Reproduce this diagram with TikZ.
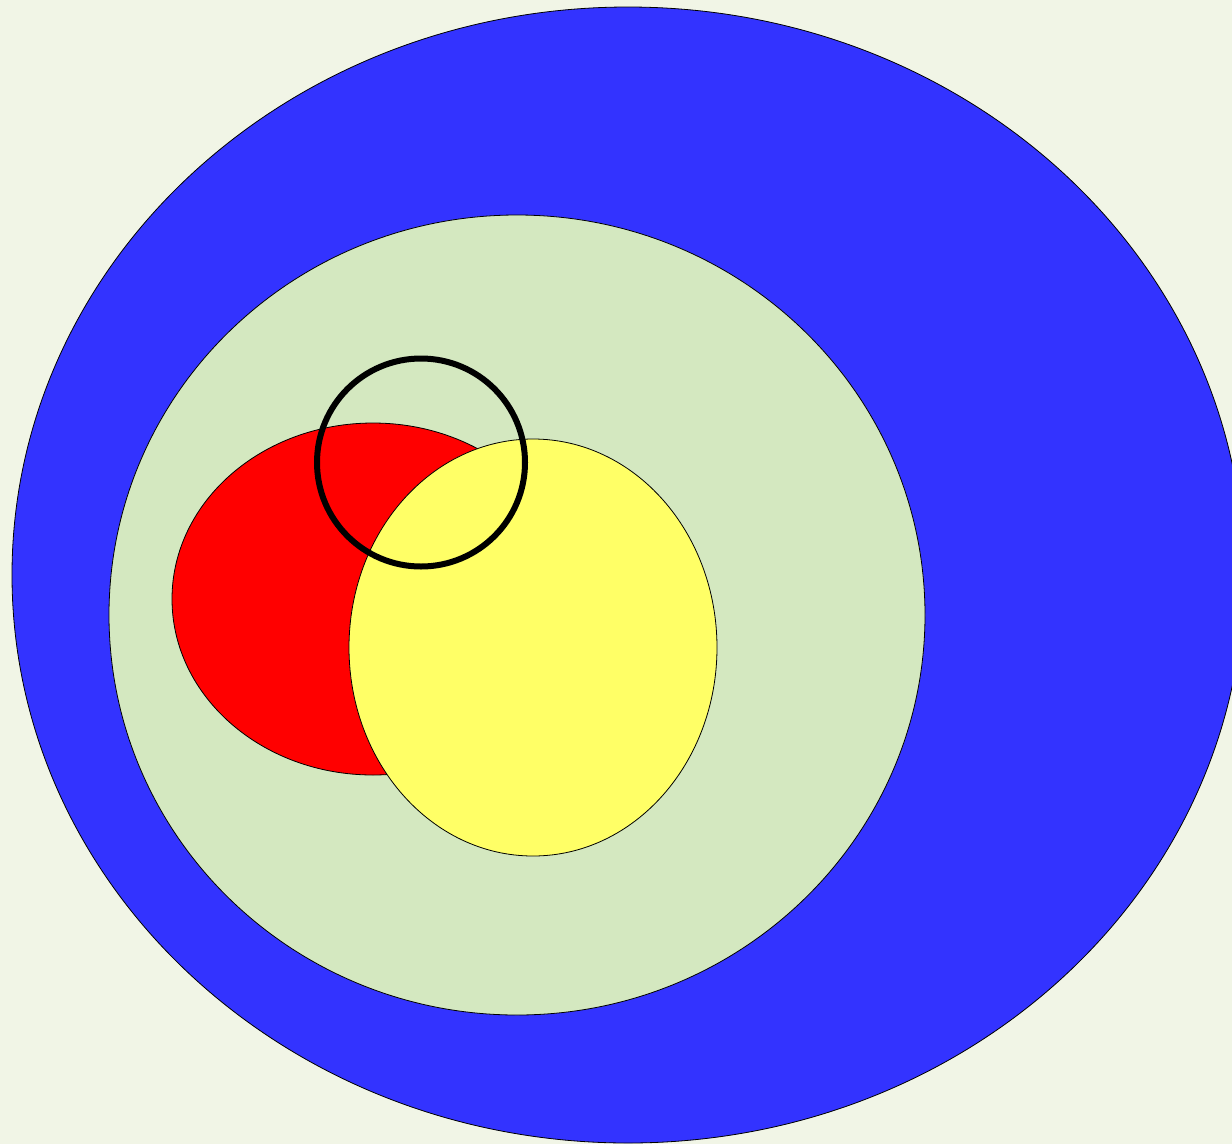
\documentclass[tikz,border=0pt]{standalone}
\usetikzlibrary{shapes.geometric}
\definecolor{bg}{HTML}{F1F5E6}
\definecolor{bigblue}{HTML}{3333FF}
\definecolor{palegreen}{HTML}{D4E8C0}
\definecolor{redfill}{HTML}{FF0000}
\definecolor{yellowfill}{HTML}{FFFF66}
\tikzset{
  blob/.style={draw=black, line width=0.8pt},
  ring/.style={draw=black, line width=6pt}
}
\begin{document}
\begin{tikzpicture}[x=1pt,y=-1pt]
\useasboundingbox (0,0) rectangle (1232,1144);
\clip (0,0) rectangle (1232,1144);
\fill[bg] (0,0) rectangle (1232,1144);
\draw[blob, fill=bigblue] (628,575) ellipse [x radius=616, y radius=568];
\draw[blob, fill=palegreen] (517,615) ellipse [x radius=408, y radius=400];
\draw[blob, fill=redfill] (373,599) ellipse [x radius=201, y radius=176];
\draw[blob, fill=yellowfill] (533,647.5) ellipse [x radius=184, y radius=208.5];
\draw[ring] (421,462.5) circle [radius=104];
\end{tikzpicture}
\end{document}
